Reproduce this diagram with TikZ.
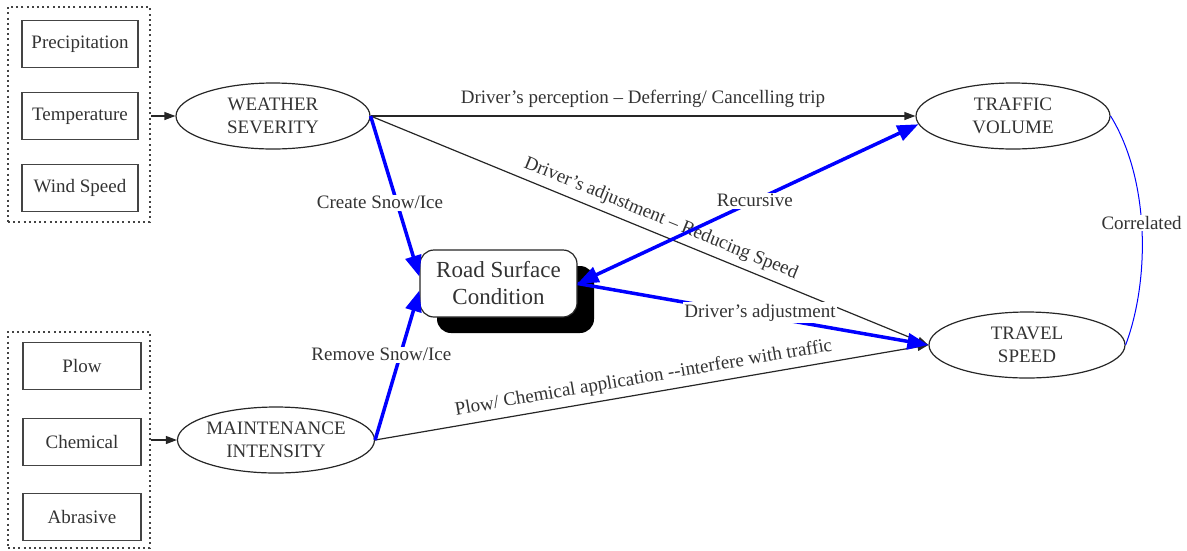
\documentclass[tikz,border=0pt]{standalone}
\usepackage{fontspec}
\setmainfont{Liberation Serif}
\usetikzlibrary{arrows.meta,shapes.geometric,shadows}
\definecolor{txt}{HTML}{333333}
\definecolor{boxc}{HTML}{444444}
\begin{document}
\begin{tikzpicture}[x=1pt,y=-1pt,
  every node/.style={font=\rmfamily\fontsize{19}{23}\selectfont, text=txt},
  box/.style={draw=boxc, line width=1.3pt, minimum width=116pt, minimum height=47pt, inner sep=0pt},
  grp/.style={draw=boxc, line width=2pt, dash pattern=on 2pt off 3.2pt, inner sep=0pt},
  ell/.style={ellipse, draw=black!85, line width=1.2pt, minimum width=194pt, minimum height=66pt, inner sep=0pt, align=center},
  roadbox/.style={draw=black!85, line width=1.2pt, rounded corners=14pt, fill=white, minimum width=157pt, minimum height=67pt, inner sep=0pt, align=center, font=\rmfamily\fontsize{23}{27}\selectfont,
    drop shadow={shadow xshift=17pt, shadow yshift=-16pt, fill=black, opacity=1}},
  blk/.style={draw=black!85, line width=1.2pt, -{Triangle[length=11pt,width=8pt]}},
  blu/.style={draw=blue, line width=3.5pt, -{Triangle[length=21pt,width=16pt]}},
  lbl/.style={fill=white, inner sep=1.5pt},
  slbl/.style={sloped, above=5pt, inner sep=1pt},
]
\useasboundingbox (0,0) rectangle (1187,550);

% weather factors
\node[grp, minimum width=142pt, minimum height=215pt] (wgroup) at (79,114.5) {};
\node[box] (prec) at (80,44) {Precipitation};
\node[box] (temp) at (80,116) {Temperature};
\node[box] (wind) at (80,188) {Wind Speed};

% maintenance factors
\node[grp, minimum width=142pt, minimum height=216pt] (mgroup) at (79,440) {};
\node[box, minimum width=118pt] (plow) at (82,366) {Plow};
\node[box, minimum width=118pt] (chem) at (82,442) {Chemical};
\node[box, minimum width=118pt] (abr) at (82,517) {Abrasive};

% main nodes
\node[ell] (weather) at (273,116) {WEATHER\\SEVERITY};
\node[ell, minimum width=192pt] (maint) at (276,440) {MAINTENANCE\\INTENSITY};
\node[ell] (traffic) at (1013,116) {TRAFFIC\\VOLUME};
\node[ell, minimum width=196pt] (travel) at (1027,345) {TRAVEL\\SPEED};
\node[roadbox] (road) at (498.5,283.5) {Road Surface\\Condition};

% inputs
\draw[blk] (wgroup.east |- weather.west) -- (weather.west);
\draw[blk] (mgroup.east |- maint.west) -- (maint.west);

% black relations
\draw[blk] (weather.east) -- (traffic.west)
  node[pos=0.5, above=7pt, inner sep=1pt] {Driver’s perception -- Deferring/ Cancelling trip};
\draw[blk] (weather.east) -- (travel.west)
  node[pos=0.51, slbl] {Driver’s adjustment -- Reducing Speed};
\draw[blk] (maint.east) -- (travel.west)
  node[pos=0.49, slbl] {Plow/ Chemical application -{}-interfere with traffic};

% blue relations
\draw[blu] (weather.east) -- (road.175)
  node[pos=0.54, lbl, xshift=-17pt] {Create Snow/Ice};
\draw[blu] (maint.east) -- (road.185)
  node[pos=0.57, lbl, xshift=-19pt] {Remove Snow/Ice};
\draw[blu, {Triangle[length=21pt,width=16pt]}-{Triangle[length=21pt,width=16pt]}] (road.east) -- (traffic.185)
  node[pos=0.52, lbl] {Recursive};
\draw[blu] (road.east) -- (travel.west)
  node[pos=0.52, lbl, yshift=3pt] {Driver’s adjustment};

% correlation
\draw[draw=blue, line width=1pt] (traffic.east) .. controls (1150,180) and (1150,280) .. (travel.east)
  node[pos=0.47, lbl] {Correlated};
\end{tikzpicture}
\end{document}
